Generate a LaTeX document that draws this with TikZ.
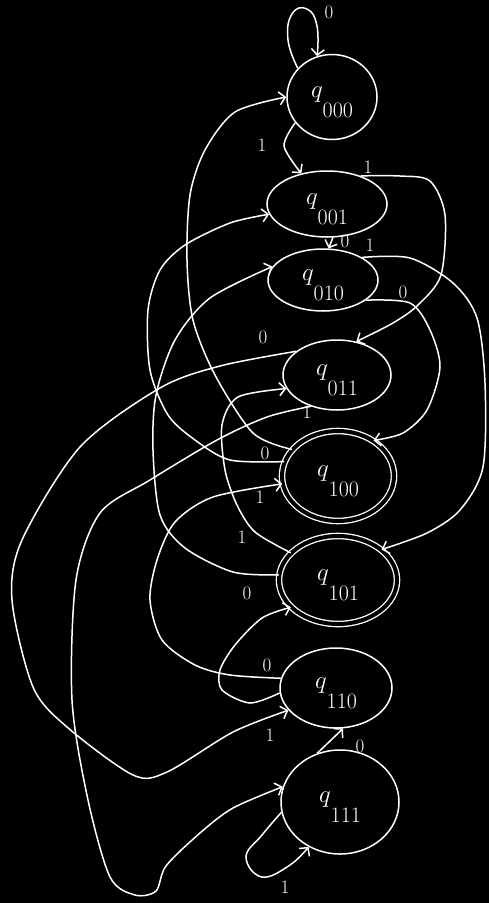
\documentclass[tikz,border=0pt]{standalone}
\usetikzlibrary{arrows.meta,shapes.geometric}

\newcommand{\qname}[1]{$q$\raisebox{-20pt}{\fontsize{22}{22}\selectfont #1}}

\begin{document}
\begin{tikzpicture}[x=1pt, y=-1pt,
    state/.style={draw=white, ellipse, line width=1.5pt, inner sep=0pt,
                  text=white, font=\fontsize{48}{48}\selectfont,
                  text height=10pt, text depth=10pt},
    accept/.style={double=black, double distance=4pt, line width=1.3pt},
    arr/.style={draw=white, line width=1.5pt,
                -{Straight Barb[length=6pt,width=13pt]}},
    lbl/.style={text=white, font=\fontsize{19}{19}\selectfont}
  ]
  \fill[black] (0,0) rectangle (489,903);

  % states
  \node[state, minimum width=90pt, minimum height=85pt] (q000) at (332,97) {\qname{000}};
  \node[state, minimum width=120pt, minimum height=66pt] (q001) at (327,204) {\qname{001}};
  \node[state, minimum width=110pt, minimum height=62pt] (q010) at (323,280) {\qname{010}};
  \node[state, minimum width=108pt, minimum height=70pt] (q011) at (337,375) {\qname{011}};
  \node[state, accept, minimum width=112pt, minimum height=90pt] (q100) at (338,476) {\qname{100}};
  \node[state, accept, minimum width=118pt, minimum height=88pt] (q101) at (338,580) {\qname{101}};
  \node[state, minimum width=112pt, minimum height=80pt] (q110) at (336,688) {\qname{110}};
  \node[state, minimum width=118pt, minimum height=104pt] (q111) at (340,802) {\qname{111}};

  % short edges
  \draw[arr] plot[smooth, tension=0.8] coordinates {(q000.140) (288,40) (292,14) (307,9) (317,26) (q000.110)};
  \draw[arr] plot[smooth] coordinates {(q000.215) (284,146) (q001.130)};
  \draw[arr] (q001.-80) -- (q010.80);
  \draw[arr] (q111.115) -- (q110.-80);
  \draw[arr] plot[smooth, tension=0.7] coordinates {(q111.190) (262,835) (246,857) (262,877) (290,865) (q111.-125)};

  % right side
  \draw[arr] plot[smooth] coordinates {(q001.40) (400,176) (430,181) (445,215) (441,275) (418,305) (393,323) (q011.60)};
  \draw[arr] plot[smooth] coordinates {(q010.30) (410,258) (453,283) (477,318) (485,383) (483,467) (460,510) (427,533) (q101.35)};
  \draw[arr] plot[smooth] coordinates {(q010.-25) (410,303) (430,330) (440,367) (427,410) (403,433) (q100.45)};

  % left side
  \draw[arr] plot[smooth] coordinates {(q011.150) (220,366) (160,388) (80,447) (22,540) (12,600) (33,687) (67,727) (133,775) (167,772) (233,732) (q110.205)};
  \draw[arr] plot[smooth] coordinates {(q011.230) (267,417) (217,440) (150,480) (100,513) (76,580) (72,700) (88,800) (110,877) (135,895) (156,891) (166,866) (200,833) (233,808) (q111.165)};
  \draw[arr] plot[smooth] coordinates {(q100.150) (253,433) (215,375) (193,320) (187,260) (190,195) (205,150) (235,112) (q000.180)};
  \draw[arr] plot[smooth] coordinates {(q100.165) (230,460) (195,440) (168,415) (150,370) (148,310) (160,270) (185,245) (230,223) (q001.190)};
  \draw[arr] plot[smooth] coordinates {(q101.175) (233,572) (185,548) (160,515) (153,450) (156,395) (175,340) (210,298) (q010.165)};
  \draw[arr] plot[smooth] coordinates {(q101.150) (255,532) (237,505) (225,470) (222,425) (238,397) (q011.195)};
  \draw[arr] plot[smooth] coordinates {(q110.170) (230,675) (195,665) (162,640) (150,600) (157,560) (175,522) (213,497) (q100.188)};
  \draw[arr] plot[smooth] coordinates {(q110.185) (250,703) (222,690) (220,670) (235,645) (262,618) (q101.210)};

  % labels
  \node[lbl] (l0a) at (329,12) {0};
  \node[lbl] (l1a) at (262,145) {1};
  \node[lbl] (l1b) at (368,167) {1};
  \node[lbl] (l0b) at (345,241) {0};
  \node[lbl] (l1c) at (370,245) {1};
  \node[lbl] (l0c) at (403,292) {0};
  \node[lbl] (l0d) at (263,337) {0};
  \node[lbl] (l1d) at (307,412) {1};
  \node[lbl] (l0e) at (265,453) {0};
  \node[lbl] (l1e) at (260,497) {1};
  \node[lbl] (l1f) at (242,537) {1};
  \node[lbl] (l0f) at (247,593) {0};
  \node[lbl] (l0g) at (267,665) {0};
  \node[lbl] (l1g) at (270,735) {1};
  \node[lbl] (l0h) at (360,746) {0};
  \node[lbl] (l1h) at (285,887) {1};
\end{tikzpicture}
\end{document}
